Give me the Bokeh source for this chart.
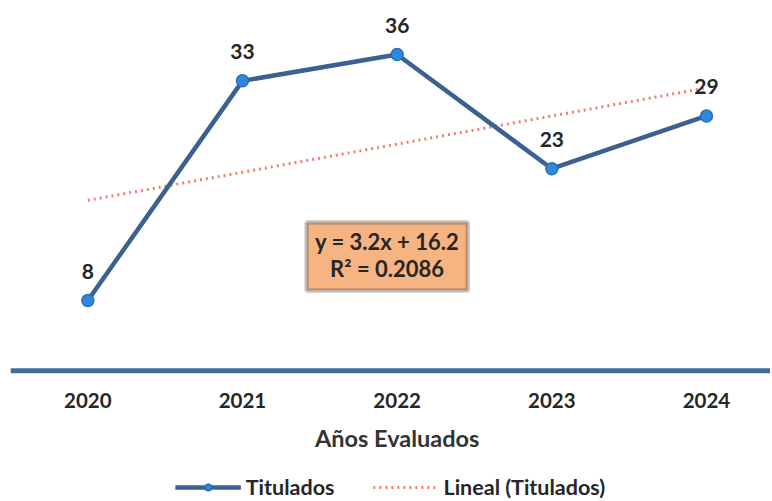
from bokeh.plotting import figure
from bokeh.models import Range1d, ColumnDataSource, LabelSet, BoxAnnotation, Label, Legend, LegendItem, Span
from bokeh.core.properties import value
from bokeh.embed import file_html
from bokeh.resources import INLINE

years = ["2020", "2021", "2022", "2023", "2024"]
titulados = [8, 33, 36, 23, 29]
trend_slope = 3.2
trend_intercept = 16.2
eq_lines = ["y = 3.2x + 16.2", "R\u00b2 = 0.2086"]
x_title = "A\u00f1os Evaluados"

xs = list(range(1, len(years) + 1))
trend_x = [xs[0], xs[-1]]
trend_y = [trend_slope * x + trend_intercept for x in trend_x]

FONT = "Lato"

p = figure(frame_width=760, frame_height=491, output_backend="svg", toolbar_location=None,
           x_range=Range1d(0.5, 5.414), y_range=Range1d(-14.76, 41.12),
           x_axis_location=None, y_axis_location=None,
           min_border_left=10, min_border_right=0, min_border_top=9, min_border_bottom=0)
p.outline_line_color = None
p.xgrid.visible = False
p.ygrid.visible = False
p.background_fill_color = "white"

# x axis baseline at zero
p.add_layout(Span(location=0, dimension="width", line_color="#3F6C9C", line_width=5))

tick_src = ColumnDataSource(dict(x=xs, y=[0] * len(xs), lab=years))
p.add_layout(LabelSet(x="x", y="y", text="lab", source=tick_src, y_offset=-30, text_align="center",
                      text_baseline="middle", text_font=value(FONT), text_font_style="bold",
                      text_font_size="20.5px", text_color="#262626"))
p.add_layout(Label(x=3, y=0, y_offset=-67, text=x_title, text_align="center", text_baseline="middle",
                   text_font=FONT, text_font_style="bold", text_font_size="23.5px", text_color="#333333"))

src = ColumnDataSource(dict(x=xs, y=titulados, lab=[str(v) for v in titulados]))

tr = p.line(trend_x, trend_y, line_color="#F07E6E", line_width=3, line_dash="2 4")
ln = p.line("x", "y", source=src, line_color="#3B6193", line_width=4.5)
mk = p.scatter("x", "y", source=src, size=12, fill_color="#2C89DB", line_color="#2A6FB8", line_width=1.5)

labels = LabelSet(x="x", y="y", text="lab", source=src, y_offset=29, text_align="center",
                  text_baseline="middle", text_font=value(FONT), text_font_style="bold",
                  text_font_size="21px", text_color="#262626")
p.add_layout(labels)

box = BoxAnnotation(left=2.415, right=3.456, bottom=9.14, top=16.88,
                    fill_color="#F5B482", fill_alpha=1.0, line_color="#3A3A3A", line_width=4.5)
p.add_layout(box)
for i, t in enumerate(eq_lines):
    p.add_layout(Label(x=2.935, y=14.75 - i * 3.05, text=t, text_align="center", text_baseline="middle",
                       text_font=FONT, text_font_style="bold", text_font_size="22px", text_color="#262626"))

legend = Legend(items=[LegendItem(label="Titulados", renderers=[ln, mk]),
                       LegendItem(label="Lineal (Titulados)", renderers=[tr])],
                orientation="horizontal", location="bottom_center", glyph_width=66, glyph_height=16,
                label_text_font=FONT, label_text_font_style="bold", label_text_font_size="21.5px",
                label_text_color="#262626", spacing=38, border_line_color=None,
                background_fill_alpha=0, padding=1, margin=0, label_standoff=5)
p.add_layout(legend)

open("out.html", "w").write(file_html(p, INLINE))
